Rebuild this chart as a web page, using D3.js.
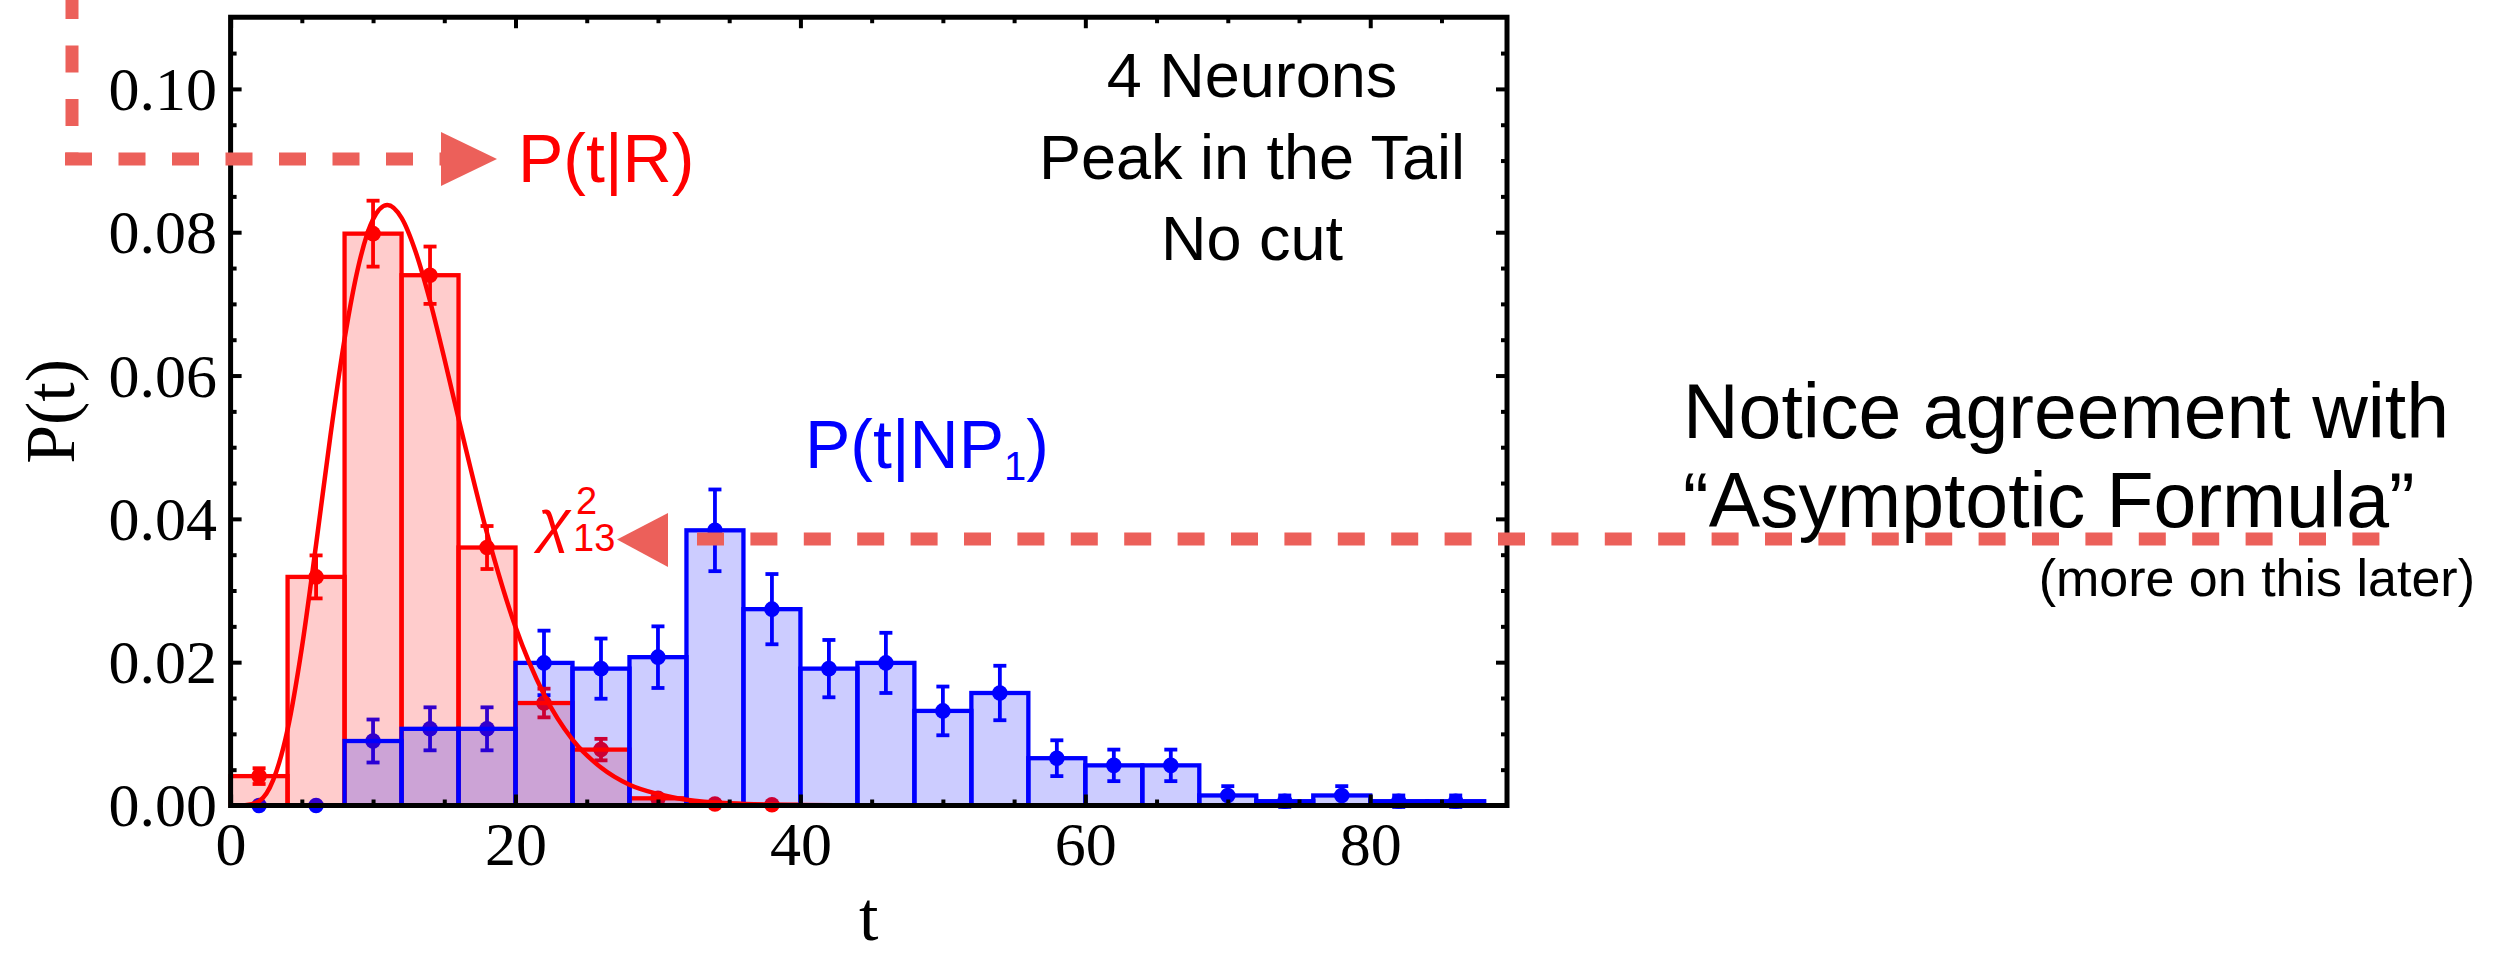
<!DOCTYPE html>
<html>
<head>
<meta charset="utf-8">
<script src="https://cdn.jsdelivr.net/npm/d3@7"></script>
<style>
  body { margin: 0; background: #fff; }
</style>
</head>
<body>
<div class="canvas"></div>
<script>
// histogram bins are 4 wide, starting at binStart
const binWidth = 4;
const redBinStart = [0, 4, 8, 12, 16, 20, 24, 28, 32, 36];
const redValues = [0.0041, 0.0319, 0.0798, 0.0740, 0.0360, 0.0143, 0.0078, 0.0010, 0.0002, 0.0001];
const redErrors = [0.0011, 0.0030, 0.0046, 0.0040, 0.0030, 0.0020, 0.0015, 0.0004, 0.0002, 0.0001];

const blueBinStart = [0, 4, 8, 12, 16, 20, 24, 28, 32, 36, 40, 44, 48, 52, 56, 60, 64, 68, 72, 76, 80, 84];
const blueValues = [0, 0, 0.0090, 0.0107, 0.0107, 0.0199, 0.0191, 0.0207, 0.0384, 0.0274, 0.0191, 0.0199,
    0.0132, 0.0157, 0.0066, 0.0056, 0.0056, 0.0014, 0.0006, 0.0014, 0.0006, 0.0006];
const blueErrors = [0, 0, 0.0030, 0.0030, 0.0030, 0.0045, 0.0042, 0.0043, 0.0057, 0.0049, 0.0040, 0.0042,
    0.0034, 0.0038, 0.0025, 0.0022, 0.0022, 0.0013, 0.0008, 0.0013, 0.0008, 0.0008];

// red curve
const curveT = [0, 1, 2, 3, 4, 5, 6, 7, 8, 9, 10, 11, 12, 13, 14, 15, 16, 18, 20, 22, 24, 26, 28, 30, 32, 35, 40, 45, 50];
const curveP = [0, 0.00002, 0.0006, 0.0036, 0.0106, 0.0220, 0.0364, 0.0515, 0.0651, 0.0755, 0.0818, 0.0838,
    0.0820, 0.0772, 0.0704, 0.0624, 0.0540, 0.0380, 0.0249, 0.0155, 0.0092, 0.0053, 0.0029, 0.0016, 0.0008,
    0.0003, 0.00006, 0.00001, 0];

const xMajor = [0, 20, 40, 60, 80];
const xMinor = [5, 10, 15, 25, 30, 35, 45, 50, 55, 65, 70, 75, 85];
const yMajor = [0, 0.02, 0.04, 0.06, 0.08, 0.10];
const yMinor = [0.005, 0.01, 0.015, 0.025, 0.03, 0.035, 0.045, 0.05, 0.055, 0.065, 0.07, 0.075, 0.085, 0.09, 0.095, 0.105];

const serif = '"Liberation Serif", "Times New Roman", serif';
const sans = '"Liberation Sans", Arial, Helvetica, sans-serif';
const red = '#ff0000';
const blue = '#0000ff';
const accent = '#ec605a';

const svg = d3.select('.canvas')
    .append('svg')
    .attr('width', 2506)
    .attr('height', 955);

// plot frame
const left = 230.6, right = 1507, bottom = 805.5;

const x = d3.scaleLinear()
    .domain([0, 89.6])
    .range([left, right]);

const y = d3.scaleLinear()
    .domain([0, 0.11])
    .range([bottom, bottom - 0.11 * 7166]);

const plot = svg.append('g');

const red_data = redBinStart.map((s, i) => ({ s, v: redValues[i], e: redErrors[i] }));
const blue_data = blueBinStart.map((s, i) => ({ s, v: blueValues[i], e: blueErrors[i] }));

function errorBars(g, data, color) {
    const eb = g.selectAll('g.eb')
        .data(data)
        .enter()
        .append('g')
        .attr('class', 'eb');
    const cx = d => x(d.s + binWidth / 2);
    eb.filter(d => d.e > 0).append('line')
        .attr('x1', cx).attr('x2', cx)
        .attr('y1', d => y(d.v - d.e)).attr('y2', d => y(d.v + d.e))
        .attr('stroke', color).attr('stroke-width', 3.8);
    eb.filter(d => d.e > 0).append('line')
        .attr('x1', d => cx(d) - 6.5).attr('x2', d => cx(d) + 6.5)
        .attr('y1', d => y(d.v + d.e)).attr('y2', d => y(d.v + d.e))
        .attr('stroke', color).attr('stroke-width', 3.8);
    eb.filter(d => d.e > 0).append('line')
        .attr('x1', d => cx(d) - 6.5).attr('x2', d => cx(d) + 6.5)
        .attr('y1', d => y(d.v - d.e)).attr('y2', d => y(d.v - d.e))
        .attr('stroke', color).attr('stroke-width', 3.8);
    eb.append('circle')
        .attr('cx', cx)
        .attr('cy', d => y(d.v))
        .attr('r', 7.8)
        .attr('fill', color);
}

function bars(g, data, fill, stroke) {
    g.selectAll('rect')
        .data(data.filter(d => d.v > 0))
        .enter()
        .append('rect')
        .attr('x', d => x(d.s))
        .attr('width', d => x(d.s + binWidth) - x(d.s))
        .attr('y', d => y(d.v))
        .attr('height', d => y(0) - y(d.v))
        .attr('fill', fill ? fill : 'none')
        .attr('stroke', stroke ? stroke : 'none')
        .attr('stroke-width', 4.3);
}

// layering copies the way the colours mix in the picture
errorBars(plot.append('g'), blue_data, blue);
bars(plot.append('g'), red_data, 'rgba(255,0,0,0.2)', null);
errorBars(plot.append('g'), red_data, red);
bars(plot.append('g'), blue_data, 'rgba(0,0,255,0.2)', null);
bars(plot.append('g'), red_data, null, red);
bars(plot.append('g'), blue_data, null, blue);

const line = d3.line()
    .x((d, i) => x(curveT[i]))
    .y(d => y(d))
    .curve(d3.curveMonotoneX);

plot.append('path')
    .datum(curveP)
    .attr('d', line)
    .attr('fill', 'none')
    .attr('stroke', red)
    .attr('stroke-width', 4.5);

// axes, ticks point inward
function styleAxis(g) {
    g.select('.domain').remove();
    g.selectAll('line').attr('stroke', '#000').attr('stroke-width', 4);
}

const xAxisGroup = svg.append('g').attr('transform', `translate(0,${y(0)})`);
xAxisGroup.call(d3.axisBottom(x).tickValues(xMajor).tickSize(-11).tickFormat(d3.format('d')));
styleAxis(xAxisGroup);
xAxisGroup.selectAll('text')
    .attr('y', 865 - y(0))
    .attr('dy', 0)
    .attr('font-family', serif)
    .attr('font-size', 62)
    .attr('fill', '#000');
svg.append('g').attr('transform', `translate(0,${y(0)})`)
    .call(d3.axisBottom(x).tickValues(xMinor).tickSize(-6).tickFormat(''))
    .call(styleAxis);

const topGroup = svg.append('g').attr('transform', `translate(0,${y(0.11)})`);
topGroup.call(d3.axisTop(x).tickValues(xMajor).tickSize(-11).tickFormat('')).call(styleAxis);
topGroup.append('g').call(d3.axisTop(x).tickValues(xMinor).tickSize(-6).tickFormat('')).call(styleAxis);

const yAxisGroup = svg.append('g').attr('transform', `translate(${left},0)`);
yAxisGroup.call(d3.axisLeft(y).tickValues(yMajor).tickSize(-11).tickFormat(d3.format('.2f')));
styleAxis(yAxisGroup);
yAxisGroup.selectAll('text')
    .attr('x', 217 - left)
    .attr('dy', '0.33em')
    .attr('font-family', serif)
    .attr('font-size', 62)
    .attr('fill', '#000');
svg.append('g').attr('transform', `translate(${left},0)`)
    .call(d3.axisLeft(y).tickValues(yMinor).tickSize(-6).tickFormat(''))
    .call(styleAxis);

const rightGroup = svg.append('g').attr('transform', `translate(${right},0)`);
rightGroup.call(d3.axisRight(y).tickValues(yMajor).tickSize(-11).tickFormat('')).call(styleAxis);
rightGroup.append('g').call(d3.axisRight(y).tickValues(yMinor).tickSize(-6).tickFormat('')).call(styleAxis);

svg.append('rect')
    .attr('x', left)
    .attr('y', y(0.11))
    .attr('width', right - left)
    .attr('height', y(0) - y(0.11))
    .attr('fill', 'none')
    .attr('stroke', '#000')
    .attr('stroke-width', 5);

// axis labels
svg.append('text')
    .attr('x', (left + right) / 2)
    .attr('y', 940)
    .attr('text-anchor', 'middle')
    .attr('font-family', serif)
    .attr('font-size', 70)
    .text('t');

svg.append('text')
    .attr('transform', `translate(74,${(y(0) + y(0.11)) / 2}) rotate(-90)`)
    .attr('text-anchor', 'middle')
    .attr('font-family', serif)
    .attr('font-size', 70)
    .text('P(t)');

// inset text
const inset = ['4 Neurons', 'Peak in the Tail', 'No cut'];
svg.selectAll('text.inset')
    .data(inset)
    .enter()
    .append('text')
    .attr('class', 'inset')
    .attr('x', 1252)
    .attr('y', (d, i) => 97 + i * 81.5)
    .attr('text-anchor', 'middle')
    .attr('font-family', sans)
    .attr('font-size', 63)
    .text(d => d);

// series labels
svg.append('text')
    .attr('x', 518).attr('y', 182)
    .attr('font-family', sans).attr('font-size', 68)
    .attr('fill', red)
    .text('P(t|R)');

const np = svg.append('text')
    .attr('x', 805).attr('y', 468)
    .attr('font-family', sans).attr('font-size', 68)
    .attr('fill', blue);
np.append('tspan').text('P(t|NP');
np.append('tspan').attr('font-size', 40).attr('dy', 12).text('1');
np.append('tspan').attr('dy', -12).text(')');

// chi-squared label
svg.append('text')
    .attr('x', 538).attr('y', 541)
    .attr('font-family', sans).attr('font-size', 60)
    .attr('font-style', 'italic')
    .attr('fill', red)
    .text('χ');
svg.append('text')
    .attr('x', 576).attr('y', 514)
    .attr('font-family', sans).attr('font-size', 38)
    .attr('fill', red)
    .text('2');
svg.append('text')
    .attr('x', 573).attr('y', 551)
    .attr('font-family', sans).attr('font-size', 38)
    .attr('fill', red)
    .text('13');

// dashed annotation arrows
const ann = svg.append('g');
ann.append('path')
    .attr('d', 'M72,-8 V165')
    .attr('stroke', accent).attr('stroke-width', 13)
    .attr('stroke-dasharray', '27,26.5').attr('fill', 'none');
ann.append('path')
    .attr('d', 'M65,159 H441')
    .attr('stroke', accent).attr('stroke-width', 13)
    .attr('stroke-dasharray', '27,26.5').attr('fill', 'none');
ann.append('path')
    .attr('d', 'M441,132 L497,159 L441,186 Z')
    .attr('fill', accent);

ann.append('path')
    .attr('d', 'M697,539 H2380')
    .attr('stroke', accent).attr('stroke-width', 13)
    .attr('stroke-dasharray', '27,26.4').attr('fill', 'none');
ann.append('path')
    .attr('d', 'M668,513 L617,539.5 L668,567 Z')
    .attr('fill', accent);

// side note
const note = ['Notice agreement with', '\u201CAsymptotic Formula\u201D'];
svg.selectAll('text.note')
    .data(note)
    .enter()
    .append('text')
    .attr('class', 'note')
    .attr('x', 1683)
    .attr('y', (d, i) => 438 + i * 89)
    .attr('font-family', sans)
    .attr('font-size', 77)
    .text(d => d);

svg.append('text')
    .attr('x', 2475).attr('y', 596)
    .attr('text-anchor', 'end')
    .attr('font-family', sans)
    .attr('font-size', 52)
    .text('(more on this later)');
</script>
</body>
</html>
